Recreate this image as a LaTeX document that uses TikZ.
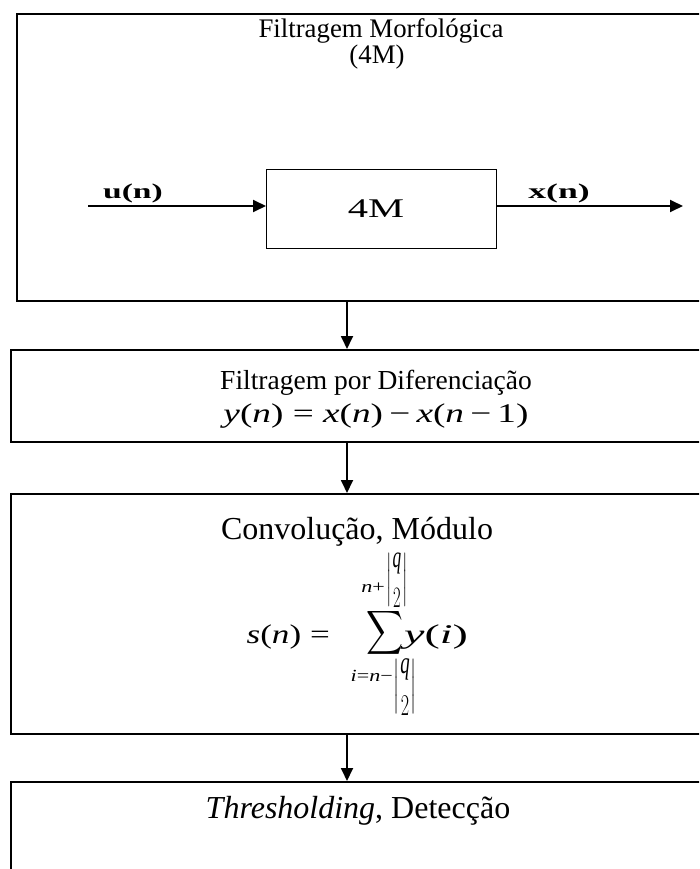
\documentclass[tikz,border=0pt]{standalone}
\usepackage{amsmath}
\usepackage{graphicx}
\usepackage{fontspec}
\setmainfont{Liberation Serif}
\usetikzlibrary{arrows.meta}
\newcommand\vi[1]{\textit{#1}}
\newcommand\fsz[1]{\fontsize{#1}{#1}\selectfont}
\newcommand\qhalf{$\left|\genfrac{}{}{0pt}{0}{\vi{q}}{2}\right|$}
\begin{document}
\begin{tikzpicture}[x=1pt,y=-1pt,
  blk/.style={draw,line width=2pt,anchor=north west,inner sep=0pt},
  inbox/.style={draw,line width=1.3pt,anchor=north west,inner sep=0pt},
  arr/.style={line width=1.8pt,-{Triangle[length=13pt,width=12pt]}},
  txt/.style={inner sep=0pt,anchor=base},
  pc/.style={inner sep=0pt},
]
\useasboundingbox (0,0) rectangle (699,869);
\clip (0,0) rectangle (699,869);
% boxes
\node[blk,minimum width=728pt,minimum height=287pt] (b1) at (16,13) {};
\node[blk,minimum width=734pt,minimum height=92pt] (b2) at (10,349) {};
\node[blk,minimum width=734pt,minimum height=240pt] (b3) at (10,493) {};
\node[blk,minimum width=734pt,minimum height=200pt] (b4) at (10,781) {};
% box 1 content
\node[txt,font=\fsz{26.8}] (t1a) at (381,38) {Filtragem Morfológica};
\node[txt,font=\fsz{26.8}] (t1b) at (377,64) {(4M)};
\node[inbox,minimum width=230pt,minimum height=79pt] (m) at (266,169) {};
\node[pc] (m4) at (376,209) {\scalebox{1.5}[1]{\fsz{27}4M}};
\coordinate (uin) at (88,206);
\coordinate (xout) at (683,206);
\draw[arr] (uin) -- (uin -| m.west);
\draw[arr] (uin -| m.east) -- (xout);
\node[pc] (lu) at (133,193) {\scalebox{1.6}[1]{\fsz{21}\textbf{u(n)}}};
\node[pc] (lx) at (559,193) {\scalebox{1.7}[1]{\fsz{21}\textbf{x(n)}}};
% box 2 content
\node[txt,font=\fsz{27.5}] (t2a) at (376,389) {Filtragem por Diferenciação};
\node[txt] (t2b) at (376,422)
  {\scalebox{1.38}[1]{\fsz{27}\vi{y}(\vi{n}) = \vi{x}(\vi{n})\,−\,\vi{x}(\vi{n}\,−\,1)}};
% box 3 content
\node[txt,font=\fsz{32}] (t3) at (357,539) {Convolução, Módulo};
\node[pc,anchor=base east] (fs) at (330,643)
  {\scalebox{1.3}[1]{\fsz{27}\vi{s}(\vi{n}) =}};
\node[pc] (fsum) at (384.5,632.5) {\resizebox*{37pt}{49pt}{$\displaystyle\sum$}};
\node[pc,anchor=base west] (fy) at (404,643)
  {\scalebox{1.7}[1]{\fsz{27}\vi{y}(\vi{i})}};
\node[pc,anchor=east] (fun) at (385,588)
  {\scalebox{1.3}[1]{\fsz{17}\vi{n}+}};
\node[pc] (fuq) at (397,580) {\resizebox*{22pt}{55pt}{\fsz{18}\qhalf}};
\node[pc,anchor=east] (fln) at (393,676)
  {\scalebox{1.3}[1]{\fsz{17}\vi{i}=\vi{n}−}};
\node[pc] (flq) at (405,687) {\resizebox*{24pt}{56pt}{\fsz{18}\qhalf}};
% box 4 content
\node[txt,font=\fsz{32}] (t4) at (358,818) {\textit{Thresholding}, Detecção};
% connectors
\coordinate (c1) at (347,301);
\coordinate (c2) at (347,441);
\coordinate (c3) at (347,733);
\draw[arr] (c1) -- (c1 |- b2.north);
\draw[arr] (c2) -- (c2 |- b3.north);
\draw[arr] (c3) -- (c3 |- b4.north);
\end{tikzpicture}
\end{document}
